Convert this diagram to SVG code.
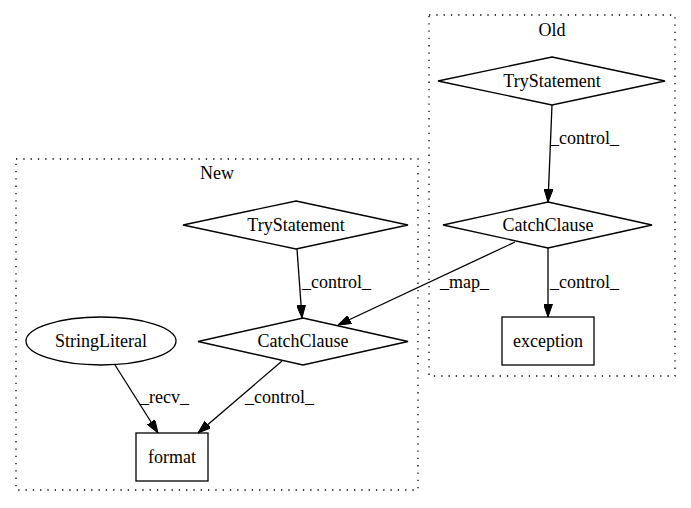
<svg xmlns="http://www.w3.org/2000/svg" width="691" height="508" viewBox="0 0 691 508">
<defs>
<style>
text{font-family:"Liberation Serif","Times New Roman",serif;font-size:18px;fill:#000}
.c{text-anchor:middle}
.n{fill:none;stroke:#000;stroke-width:1.3}
.cl{fill:none;stroke:#000;stroke-width:1.3;stroke-dasharray:1.3,6}
.e{fill:none;stroke:#000;stroke-width:1.3}
</style>
<marker id="ah" viewBox="0 0 13 9" refX="13" refY="4.5" markerWidth="13" markerHeight="9" markerUnits="userSpaceOnUse" orient="auto">
<path d="M0,0 L13,4.5 L0,9 Z" fill="#000" stroke="#000"/>
</marker>
</defs>
<rect width="691" height="508" fill="#fff"/>
<g font-family="Liberation Serif, Times New Roman, serif" font-size="18">
<g id="cluster_old">
<rect class="cl" x="429" y="15" width="246" height="361"/>
<text class="c" x="552" y="36">Old</text>
</g>
<g id="cluster_new">
<rect class="cl" x="16" y="159" width="402" height="331"/>
<text class="c" x="217" y="179">New</text>
</g>
<g id="old_try">
<polygon class="n" points="552,57 665,81 552,105 438,81"/>
<text class="c" x="552" y="87">TryStatement</text>
</g>
<g id="old_catch">
<polygon class="n" points="548,202 652,225 548,248 443,225"/>
<text class="c" x="548" y="231">CatchClause</text>
</g>
<g id="old_exception">
<rect class="n" x="502" y="317" width="92" height="48"/>
<text class="c" x="548" y="347">exception</text>
</g>
<g id="new_try">
<polygon class="n" points="296,201 408,225 296,249 183,225"/>
<text class="c" x="296" y="231">TryStatement</text>
</g>
<g id="new_catch">
<polygon class="n" points="303,318 408,341.5 303,365 198,341.5"/>
<text class="c" x="303" y="347">CatchClause</text>
</g>
<g id="new_string">
<ellipse class="n" cx="101" cy="341" rx="75" ry="24"/>
<text class="c" x="101" y="347">StringLiteral</text>
</g>
<g id="new_format">
<rect class="n" x="136" y="433" width="72" height="48"/>
<text class="c" x="172" y="463">format</text>
</g>
<g id="connectors">
<path class="e" d="M552,105 L548,202" marker-end="url(#ah)"/>
<text x="550" y="144">_control_</text>
<path class="e" d="M548,248 L548,317" marker-end="url(#ah)"/>
<text x="550" y="288">_control_</text>
<path class="e" d="M515,242 L338,325" marker-end="url(#ah)"/>
<text x="440" y="288">_map_</text>
<path class="e" d="M297,249 L302,318" marker-end="url(#ah)"/>
<text x="302" y="288">_control_</text>
<path class="e" d="M115,365 L158,433" marker-end="url(#ah)"/>
<text x="140" y="403">_recv_</text>
<path class="e" d="M282,361 L198,433" marker-end="url(#ah)"/>
<text x="245" y="403">_control_</text>
</g>
</g>
</svg>
